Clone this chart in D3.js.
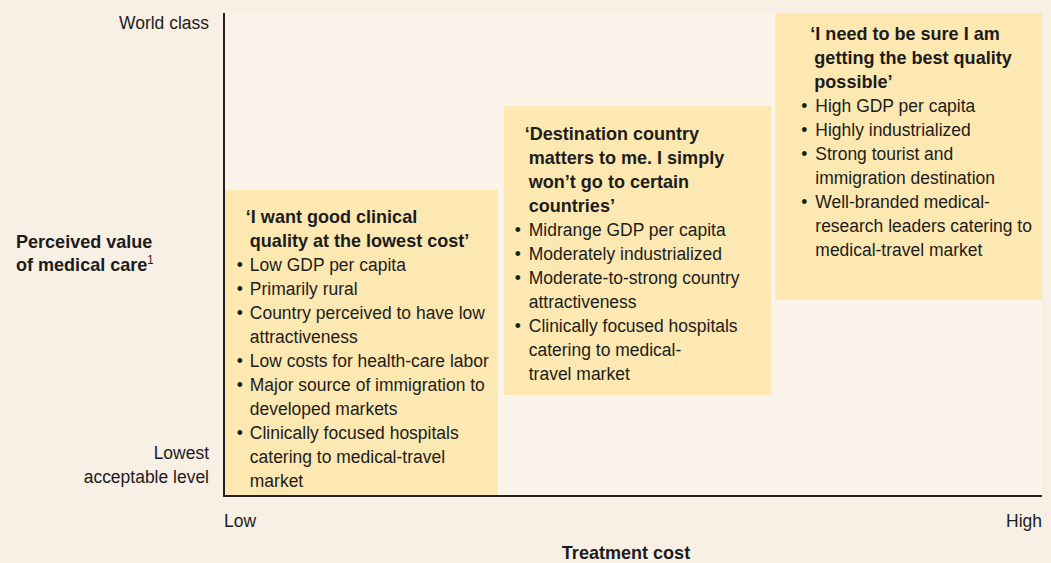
<!DOCTYPE html>
<html>
<head>
<meta charset="utf-8">
<script src="https://cdn.jsdelivr.net/npm/d3@7"></script>
<style>
  body { margin: 0; background: #f8efe5; }
  svg { display: block; }
  text { font-family: "Liberation Sans", Arial, sans-serif; fill: #1c1c1c; }
</style>
</head>
<body>
<script>
// chart values
var yTickLabels = [['World class'], ['Lowest', 'acceptable level']];
var yTickValues = [100, 0];
var xTickLabels = ['Low', 'High'];
var xTickValues = [0, 100];
var xTitle = 'Treatment cost';
var yTitle = ['Perceived value', 'of medical care'];

var segCost = [[0.1, 33.5], [34.2, 66.9], [67.4, 100]];
var segValue = [[0.2, 63.4], [20.9, 80.7], [40.6, 100]];

var segHeadings = [
  ['\u2018I want good clinical', 'quality at the lowest cost\u2019'],
  ['\u2018Destination country', 'matters to me. I simply', 'won\u2019t go to certain', 'countries\u2019'],
  ['\u2018I need to be sure I am', 'getting the best quality', 'possible\u2019']
];
var segBullets = [
  [['Low GDP per capita'], ['Primarily rural'], ['Country perceived to have low', 'attractiveness'],
   ['Low costs for health-care labor'], ['Major source of immigration to', 'developed markets'],
   ['Clinically focused hospitals', 'catering to medical-travel', 'market']],
  [['Midrange GDP per capita'], ['Moderately industrialized'], ['Moderate-to-strong country', 'attractiveness'],
   ['Clinically focused hospitals', 'catering to medical-', 'travel market']],
  [['High GDP per capita'], ['Highly industrialized'], ['Strong tourist and', 'immigration destination'],
   ['Well-branded medical-', 'research leaders catering to', 'medical-travel market']]
];

// layout of text inside each box (offsets from box top-left)
var textPad = [
  {top: 33, head: 21, dot: 15, body: 25},
  {top: 34, head: 21, dot: 14, body: 25},
  {top: 27, head: 35, dot: 29, body: 40}
];
var lineH = 24;
var fs = 19;
var narrow = 0.92, narrowBold = 0.95;  // fake condensed face

var width = 1051, height = 563;
var svg = d3.select('body').append('svg')
  .attr('width', width)
  .attr('height', height);

var x = d3.scaleLinear().domain([0, 100]).range([224, 1042]);
var y = d3.scaleLinear().domain([0, 100]).range([496, 13]);

function label(parent, tx, ty, str, bold, anchor) {
  return parent.append('text')
    .attr('transform', 'translate(' + tx + ',' + ty + ') scale(' + (bold ? narrowBold : narrow) + ',1)')
    .attr('font-size', fs)
    .attr('font-weight', bold ? 'bold' : 'normal')
    .attr('text-anchor', anchor || 'start')
    .text(str);
}

svg.append('rect')
  .attr('x', x(0)).attr('y', y(100))
  .attr('width', x(100) - x(0)).attr('height', y(0) - y(100))
  .attr('fill', '#fcf4ea');

var seg = svg.selectAll('g.seg')
  .data(segCost)
  .enter().append('g')
  .attr('class', 'seg');

seg.append('rect')
  .attr('x', function(d) { return x(d[0]); })
  .attr('y', function(d, i) { return y(segValue[i][1]); })
  .attr('width', function(d) { return x(d[1]) - x(d[0]); })
  .attr('height', function(d, i) { return y(segValue[i][0]) - y(segValue[i][1]); })
  .attr('fill', '#fde8b1');

seg.each(function(d, i) {
  var g = d3.select(this);
  var left = x(d[0]), top = y(segValue[i][1]);
  var p = textPad[i];
  var by = top + p.top;
  segHeadings[i].forEach(function(line, j) {
    label(g, left + p.head + (j == 0 ? 0 : 4), by, line, true);
    by += lineH;
  });
  segBullets[i].forEach(function(item) {
    label(g, left + p.dot, by, '\u2022', false, 'middle');
    item.forEach(function(line) {
      label(g, left + p.body, by, line, false);
      by += lineH;
    });
  });
});

// axes
svg.append('path')
  .attr('d', 'M' + x(0) + ',' + y(100) + 'V' + y(0) + 'H' + x(100))
  .attr('fill', 'none')
  .attr('stroke', '#222')
  .attr('stroke-width', 2);

yTickValues.forEach(function(v, i) {
  var lines = yTickLabels[i];
  var base = i == 0 ? y(v) + 16 : y(v) - 13 - (lines.length - 1) * lineH;
  lines.forEach(function(line, j) {
    label(svg, 209, base + j * lineH, line, false, 'end');
  });
});

xTickValues.forEach(function(v, i) {
  label(svg, x(v), 527, xTickLabels[i], false, i == 0 ? 'start' : 'end');
});

label(svg, 626, 559, xTitle, true, 'middle');

yTitle.forEach(function(line, j) {
  var t = label(svg, 16, 248 + j * 23, line, true);
  if (j == yTitle.length - 1) {
    t.append('tspan')
      .attr('font-size', 12)
      .attr('font-weight', 'normal')
      .attr('dy', -7)
      .text('1');
  }
});
</script>
</body>
</html>
